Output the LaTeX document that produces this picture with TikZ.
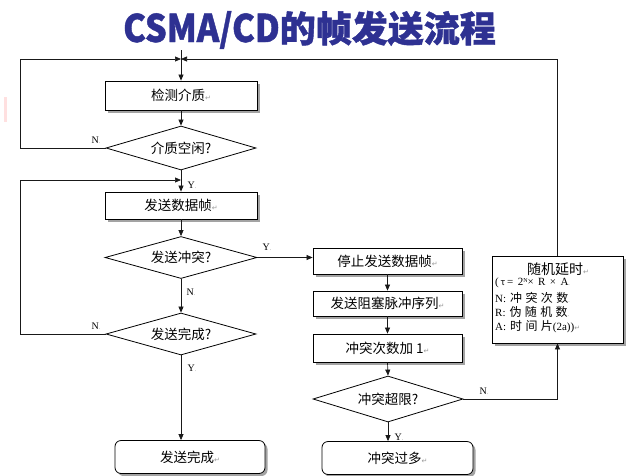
\documentclass[tikz,border=0pt]{standalone}
\usepackage{fontspec}
\setmainfont{Liberation Serif}
\newfontfamily\cjk{Noto Sans CJK SC}
\newfontfamily\cjkwide[LetterSpace=28]{Noto Sans CJK SC}
\newfontfamily\serifwide[LetterSpace=40]{Liberation Serif}
\newfontfamily\cjkspaced[LetterSpace=40]{Noto Sans CJK SC}
\newfontfamily\titlef[BoldFeatures={FakeBold=1.2}]{Noto Sans CJK SC}
\newfontfamily\symf{DejaVu Sans}
\usetikzlibrary{shapes.geometric,arrows.meta,shadows,calc}
\definecolor{titleblue}{HTML}{2E3192}
\newcommand\pmark{{\symf\color{black!40}\fontsize{7}{7}\selectfont ↵}}
\newcommand\gdot{{\color{black!45}\fontsize{6}{6}\selectfont .}}
\begin{document}
\begin{tikzpicture}[x=1pt,y=-1pt,
  box/.style={draw=black, line width=0.8pt, fill=white, rectangle, inner sep=0pt,
    font=\cjk\fontsize{13.5}{15}\selectfont,
    drop shadow={shadow xshift=2.5pt, shadow yshift=-2.5pt, fill=black!60, opacity=0.6}},
  endbox/.style={box, rounded corners=6pt, minimum width=150pt, minimum height=33pt},
  dia/.style={diamond, draw=black, line width=0.8pt, fill=white, inner sep=0pt, aspect=3.4,
    font=\cjk\fontsize{13.5}{15}\selectfont},
  arr/.style={-{Triangle[length=6pt,width=5pt]}, line width=0.7pt, draw=black!90},
  lab/.style={font=\fontsize{10}{12}\selectfont, inner sep=0pt},
  small/.style={anchor=west, inner sep=0pt, font=\fontsize{11}{13}\selectfont}]
\useasboundingbox (0,0) rectangle (630,475);
\fill[red!12] (4,97) rectangle (7,122);
% title
\node[anchor=base west, inner sep=0pt, text=titleblue, font=\titlef\bfseries] (title) at (123,42)
  {\scalebox{0.9}[1]{\fontsize{38}{40}\selectfont CSMA/CD}\fontsize{36}{40}\selectfont 的帧发送流程};
% left column
\node[box, minimum width=152pt, minimum height=29pt] (b1) at (181,95.5) {检测介质\pmark};
\node[dia, minimum width=150pt, minimum height=44pt] (d1) at (181,148) {介质空闲?};
\node[box, minimum width=152pt, minimum height=27pt] (b2) at (181,205.5) {发送数据帧\pmark};
\node[dia, minimum width=152pt, minimum height=42pt] (d2) at (181,257.5) {发送冲突?};
\node[dia, minimum width=150pt, minimum height=42pt] (d3) at (181,334) {发送完成?};
\node[endbox] (end1) at (190,457) {发送完成\pmark};
% right column
\node[box, minimum width=149pt, minimum height=26pt] (s1) at (387.5,261) {停止发送数据帧\pmark};
\node[box, minimum width=149pt, minimum height=25pt] (s2) at (387.5,303.5) {发送阻塞脉冲序列\pmark};
\node[box, minimum width=149pt, minimum height=28pt] (s3) at (387.5,348) {冲突次数加 1\pmark};
\node[dia, minimum width=150pt, minimum height=46pt] (d4) at (388,399) {冲突超限?};
\node[endbox, minimum width=151pt] (end2) at (397.5,458) {冲突过多\pmark};
% random delay
\node[box, minimum width=131pt, minimum height=87pt] (rd) at (557.5,299.5) {};
\node[inner sep=0pt, font=\cjk\fontsize{14}{16}\selectfont] (rdt) at (558,269) {随机延时\pmark};
\node[small] (rd1) at (495,283) {\serifwide (\,{\cjkspaced\fontsize{9}{11}\selectfont τ}\,=2\raisebox{0.7ex}{\fontsize{6}{6}\selectfont N}×R×A\gdot};
\node[small] (rd2) at (495,297.5) {N:\hspace{4pt}{\cjkwide\fontsize{12}{13}\selectfont 冲突次数}\gdot};
\node[small] (rd3) at (495,312) {R:\hspace{4pt}{\cjkwide\fontsize{12}{13}\selectfont 伪随机数}\gdot};
\node[small] (rd4) at (495,326.5) {A:\hspace{4pt}{\cjkwide\fontsize{12}{13}\selectfont 时间片}(2a))\pmark};
% coordinates
\coordinate (start) at (181,50);
\coordinate (j1) at (181,59);
\coordinate (L1) at (20,59);
\coordinate (j2) at (181,180);
\coordinate (L2) at (20,180);
% connectors
\draw[arr] (start) -- (b1.north);
\draw[arr] (d1.west) -| (L1) -- (j1);
\draw[arr] (rd.north) |- (j1);
\draw[arr] (b1.south) -- (d1.north);
\draw[arr] (d1.south) -- (b2.north);
\draw[arr] (d3.west) -| (L2) -- (j2);
\draw[arr] (b2.south) -- (d2.north);
\draw[arr] (d2.east) -- (d2.east -| s1.west);
\draw[arr] (d2.south) -- (d3.north);
\draw[arr] (d3.south) -- (d3.south |- end1.north);
\draw[arr] (s1.south) -- (s2.north);
\draw[arr] (s2.south) -- (s3.north);
\draw[arr] (s3.south) -- (d4.north);
\draw[arr] (d4.south) -- (d4.south |- end2.north);
\draw[arr] (d4.east) -| (rd.south);
% labels
\node[lab] (n1) at (96,140) {N\gdot};
\node[lab] (y1) at (192,185) {Y\gdot};
\node[lab] (y2) at (267,247) {Y\gdot};
\node[lab] (n2) at (191,292) {N\gdot};
\node[lab] (n3) at (96,326) {N\gdot};
\node[lab] (y3) at (192,368) {Y\gdot};
\node[lab] (n4) at (484,391) {N\gdot};
\node[lab] (y4) at (399,437) {Y\gdot};
\end{tikzpicture}
\end{document}
